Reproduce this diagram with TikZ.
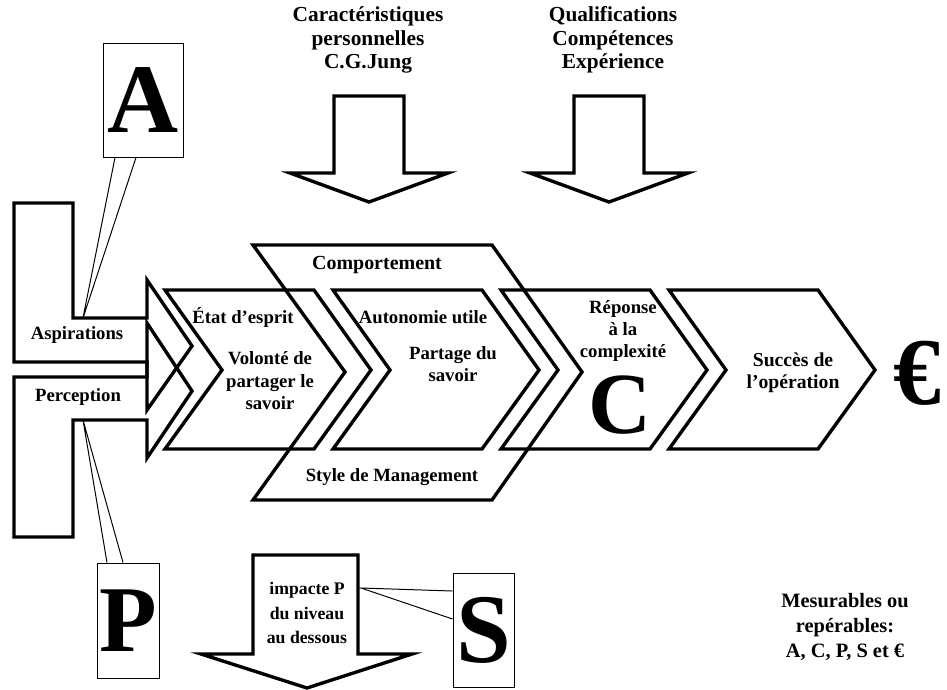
\documentclass[tikz,border=0pt]{standalone}
\usepackage{fontspec}
\setmainfont{Liberation Serif}
\usepackage{tikz}

\begin{document}
\begin{tikzpicture}[x=1cm, y=-1cm,
    shapeline/.style={line width=2.4pt},
    thinline/.style={line width=0.7pt},
    lbl/.style={font=\fontsize{13.3}{16}\selectfont\bfseries, align=center, inner sep=0pt},
    toplbl/.style={lbl, font=\fontsize{15.2}{16.6}\selectfont\bfseries},
    bigletter/.style={font=\fontsize{70}{70}\selectfont\bfseries, inner sep=0pt},
    callbox/.style={draw, thinline, inner sep=0pt}]
        \useasboundingbox (0,0) rectangle (23.675,17.225);

        \draw [shapeline] (0.35,5.075) -- (1.825,5.075) -- (1.825,7.95) -- (3.675,7.95) -- (3.675,7.0) -- (4.8,8.65) -- (3.675,10.25) -- (3.675,9.05) -- (0.35,9.05) -- cycle;          %Aspirations
        \draw [shapeline] (0.35,9.425) -- (3.675,9.425) -- (3.675,8.075) -- (4.8,9.775) -- (3.675,11.45) -- (3.675,10.5) -- (1.825,10.5) -- (1.825,13.425) -- (0.35,13.425) -- cycle; %Perception
        \node [lbl] (aspir)  at (1.925,8.375) {Aspirations};
        \node [lbl] (percep) at (1.95,9.925)  {Perception};

        \draw [shapeline] (6.325,6.125) -- (12.3,6.125) -- (14.55,9.3) -- (12.3,12.5) -- (6.325,12.5) -- (8.625,9.3) -- cycle; %Comportement / Style
        \node [lbl, font=\fontsize{14.2}{16}\selectfont\bfseries] (comport) at (9.425,6.625) {Comportement};
        \node [lbl] (style) at (9.8,11.925) {Style de Management};

        \foreach \x in {4.125,8.325,12.525,16.725}
          \draw [shapeline] (\x,7.25) -- ++(3.725,0) -- ++(1.425,2) -- ++(-1.425,1.975) -- ++(-3.725,0) -- ++(1.425,-1.975) -- cycle;

        \node [lbl] (etat)      at (6.075,7.925)  {État d’esprit};
        \node [lbl] (volonte)   at (6.75,9.525)   {Volonté de\\partager le\\savoir};
        \node [lbl] (autonomie) at (10.575,7.925) {Autonomie utile};
        \node [lbl] (partage)   at (11.325,9.1)   {Partage du\\savoir};
        \node [lbl, font=\fontsize{13.3}{15.6}\selectfont\bfseries] (reponse) at (15.575,8.275) {Réponse\\à la\\complexité};
        \node [bigletter, font=\fontsize{62}{62}\selectfont\bfseries] (bigC) at (15.5,10.125) {C};
        \node [lbl, font=\fontsize{14}{16}\selectfont\bfseries] (succes) at (19.825,9.325) {Succès de\\l’opération};
        \node [bigletter, font=\fontsize{68}{68}\selectfont\bfseries] (euro) at (22.925,9.325) {€};

        \foreach \c in {9.225,15.225}
          \draw [shapeline] (\c-0.875,2.4) -- (\c+0.875,2.4) -- (\c+0.875,4.325) -- (\c+1.975,4.325) -- (\c,5.05) -- (\c-1.975,4.325) -- (\c-0.875,4.325) -- cycle;
        \node [toplbl] (caract) at (9.2,1.0)    {Caractéristiques\\personnelles\\C.G.Jung};
        \node [toplbl] (qualif) at (15.325,1.0) {Qualifications\\Compétences\\Expérience};

        \draw [shapeline] (6.325,13.875) -- (8.95,13.875) -- (8.95,16.35) -- (10.3,16.35) -- (7.675,17.2) -- (5.025,16.35) -- (6.325,16.35) -- cycle; %niveau au dessous
        \node [lbl, font=\fontsize{12.6}{17.6}\selectfont\bfseries] (impacte) at (7.675,15.325) {impacte P\\du niveau\\au dessous};

        \node [lbl, font=\fontsize{14.5}{17.6}\selectfont\bfseries] (mesur) at (21.125,15.675) {Mesurables ou\\repérables:\\A, C, P, S et €};

        % bulles
        \coordinate (tipA) at (2.075,7.95);
        \coordinate (tipP) at (2.075,10.5);
        \coordinate (tipS) at (9.025,14.7);
        \node [callbox, bigletter, minimum width=2cm, minimum height=2.85cm] (boxA) at (3.575,2.5) {A};
        \draw [thinline] ([xshift=-7mm]boxA.south) -- (tipA) -- ([xshift=-1.75mm]boxA.south);
        \node [callbox, bigletter, font=\fontsize{67}{67}\selectfont\bfseries, minimum width=1.55cm, minimum height=2.875cm] (boxP) at (3.2,15.5125) {P};
        \draw [thinline] ([xshift=-5.25mm]boxP.north) -- (tipP) -- ([xshift=-1.25mm]boxP.north);
        \node [callbox, bigletter, minimum width=1.525cm, minimum height=2.85cm] (boxS) at (12.0875,15.75) {S};
        \draw [thinline] ([yshift=9.75mm]boxS.west) -- (tipS) -- ([yshift=2.75mm]boxS.west);
      \end{tikzpicture}
\end{document}
